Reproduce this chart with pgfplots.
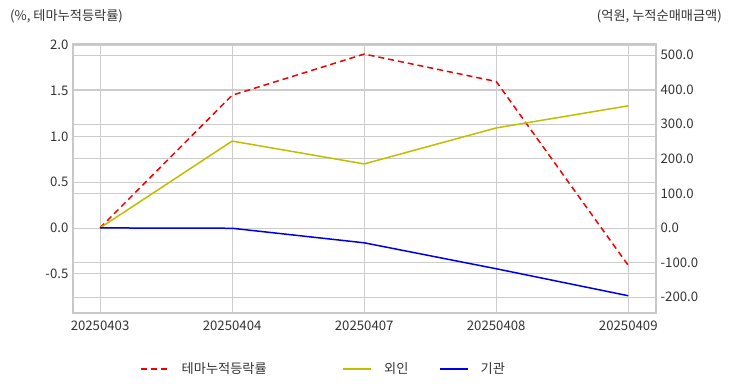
\documentclass[border=0pt]{standalone}
\usepackage{fontspec}
\setmainfont{Noto Sans CJK KR}
\usepackage{pgfplots}
\pgfplotsset{compat=1.18}
\definecolor{gridc}{HTML}{CCCCCC}
\definecolor{framec}{HTML}{C8C8C8}
\definecolor{txt}{HTML}{333333}
\definecolor{yel}{HTML}{BFBF00}
\definecolor{blu}{HTML}{0000E6}
\definecolor{rd}{HTML}{F00000}
\newcommand{\fs}{\fontsize{13.2bp}{15bp}\selectfont}
\pgfplotsset{
  set layers,
  common/.style={
    scale only axis, width=583bp, height=269bp,
    xmin=-0.205, xmax=4.21,
    xtick={0,1,2,3,4},
    major tick length=0pt,
    grid style={gridc, line width=0.8bp},
    axis line style={framec, line width=1.6bp},
    tick label style={font=\fs, text=txt},
    /pgf/number format/assume math mode=true,
    /pgf/number format/fixed, /pgf/number format/fixed zerofill, /pgf/number format/precision=1,
  },
}
\begin{document}
\fs
\begin{tikzpicture}
\begin{axis}[common,
  ymin=-0.93, ymax=2.01,
  ytick={-0.5,0,0.5,1,1.5,2},
  xmajorgrids, ymajorgrids,
  xticklabels={20250403,20250404,20250407,20250408,20250409},
  xticklabel style={yshift=-3bp},
]
\addplot[rd, dashed, line width=1.5bp, dash pattern=on 6bp off 4bp] coordinates {(0,0) (1,1.45) (2,1.90) (3,1.60) (4,-0.41)};
\end{axis}
\begin{axis}[common,
  axis y line*=right, axis x line=none,
  ymin=-245.9, ymax=531.6,
  ytick={-200,-100,0,100,200,300,400,500},
  ymajorgrids,
  legend style={at={(0.115,-0.208)}, anchor=west, draw=none, fill=none, inner sep=0pt,
    legend columns=3, font=\fs, text=txt,
    nodes={inner xsep=0pt},
    /tikz/every odd column/.append style={column sep=12bp},
    /tikz/every even column/.append style={column sep=0bp}},
  legend image code/.code={\draw[#1] (0bp,0bp) -- (28bp,0bp);},
]
\addlegendimage{rd, line width=1.5bp, dash pattern=on 6bp off 4bp}
\addlegendentry{\makebox[161bp][l]{테마누적등락률}}
\addplot[yel, line width=1.5bp] coordinates {(0,0) (1,251) (2,185) (3,289) (4,353)};
\addlegendentry{\makebox[55bp][l]{외인}}
\addplot[blu, line width=1.5bp] coordinates {(0,0) (1,-1) (2,-43) (3,-118) (4,-196)};
\addlegendentry{기관}
\end{axis}
\node[anchor=west, text=txt, inner sep=0pt] at (-63bp,297bp) {(\%, 테마누적등락률)};
\node[anchor=east, text=txt, inner sep=0pt] at (649bp,297bp) {(억원, 누적순매매금액)};
\useasboundingbox (-73bp,-79bp) rectangle (659bp,313bp);
\end{tikzpicture}
\end{document}
